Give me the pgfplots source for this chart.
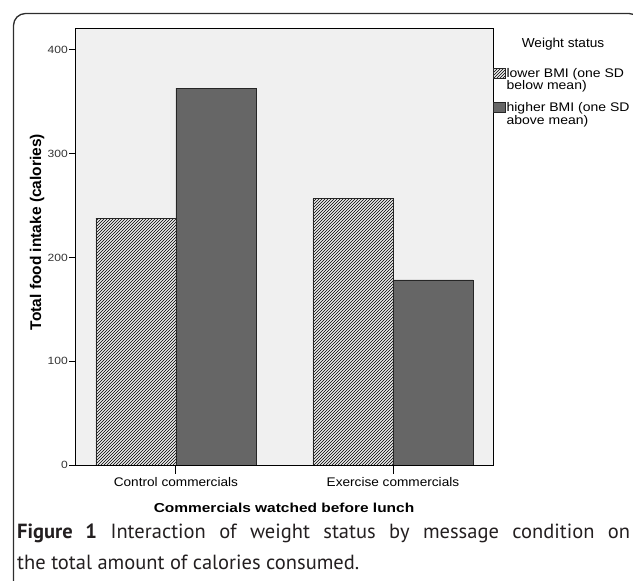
\documentclass[border=0pt]{standalone}
\usepackage{fontspec}
\setmainfont{Liberation Sans}
\newfontfamily\capfont{PT Sans}
\usepackage{pgfplots}
\pgfplotsset{compat=1.18}
\usetikzlibrary{patterns}
\definecolor{bg}{RGB}{240,240,240}
\definecolor{darkbar}{RGB}{102,102,102}
\definecolor{framecol}{RGB}{45,45,45}
\definecolor{capcol}{RGB}{35,31,32}
\newcommand{\sx}[2][1.1]{\scalebox{#1}[1]{#2}}

\begin{document}
\begin{tikzpicture}[x=1pt,y=1pt]
\useasboundingbox (0,0) rectangle (633,581);
\draw[framecol, line width=1.3pt, rounded corners=12pt] (13.5,-5) -- (13.5,567.5) -- (641,567.5) -- (641,-5);
\begin{axis}[
  at={(75pt,116pt)}, anchor=south west,
  scale only axis, width=418pt, height=437pt,
  xmin=-0.465, xmax=1.461, ymin=0, ymax=421,
  ybar=0pt, bar width=80pt,
  axis background/.style={fill=bg},
  axis line style={black, line width=0.9pt},
  xtick={0,1},
  xticklabels={\sx[1.09]{Control commercials},\sx[1.09]{Exercise commercials}},
  ytick={0,100,200,300,400},
  yticklabels={\sx[1.15]{0},\sx[1.15]{100},\sx[1.15]{200},\sx[1.15]{300},\sx[1.15]{400}},
  tick align=outside, xtick pos=bottom, ytick pos=left,
  major tick length=6pt,
  xtick style={black, line width=0.9pt, /pgfplots/major tick length=9pt},
  ytick style={black, line width=0.9pt},
  xticklabel style={font=\fontsize{12.5}{14}\selectfont, inner sep=2pt, yshift=-4pt},
  yticklabel style={font=\fontsize{10.5}{12}\selectfont, text=black!80, inner sep=1pt},
  xlabel={\sx[1.19]{\bfseries Commercials watched before lunch}},
  xlabel style={font=\fontsize{13}{15}\selectfont, at={([yshift=-43pt]axis description cs:0.5,0)}, anchor=center},
  ylabel={\bfseries Total food intake (calories)},
  ylabel style={font=\fontsize{15.5}{17}\selectfont, at={([xshift=-38pt]axis description cs:0,0.533)}, anchor=center},
  legend style={at={(rel axis cs:1,1)}, anchor=north west, yshift=-39pt, draw=none, fill=none,
    inner sep=0pt, outer sep=0pt, row sep=22pt, font=\fontsize{12.5}{12.5}\selectfont,
    nodes={anchor=base west, inner sep=1pt}},
  legend cell align=left,
  legend image code/.code={\draw[#1, line width=0.6pt] (0pt,-1pt) rectangle (12pt,9pt);},
]
\addplot[draw=black!85, line width=0.7pt, fill=white!92!black,
  postaction={pattern=north east lines, pattern color=black}]
  coordinates {(0,237.8) (1,256.4)};
\addlegendentry{\sx[1.12]{\begin{tabular}[t]{@{}l@{}}lower BMI (one SD\\below mean)\end{tabular}}}
\addplot[draw=black!85, line width=0.7pt, fill=darkbar]
  coordinates {(0,363) (1,178.3)};
\addlegendentry{\sx[1.12]{\begin{tabular}[t]{@{}l@{}}higher BMI (one SD\\above mean)\end{tabular}}}
\end{axis}
\node[font=\fontsize{13}{15}\selectfont] at (563,537) {\sx[1.05]{Weight status}};
\node[anchor=base west, inner sep=0pt, font=\capfont\fontsize{20.5}{24}\selectfont, text=capcol] at (17,42)
  {\makebox[613pt][s]{\textbf{Figure 1} Interaction of weight status by message condition on}};
\node[anchor=base west, inner sep=0pt, font=\capfont\fontsize{20.5}{24}\selectfont, text=capcol] at (17,11)
  {the total amount of calories consumed.};
\end{tikzpicture}
\end{document}
